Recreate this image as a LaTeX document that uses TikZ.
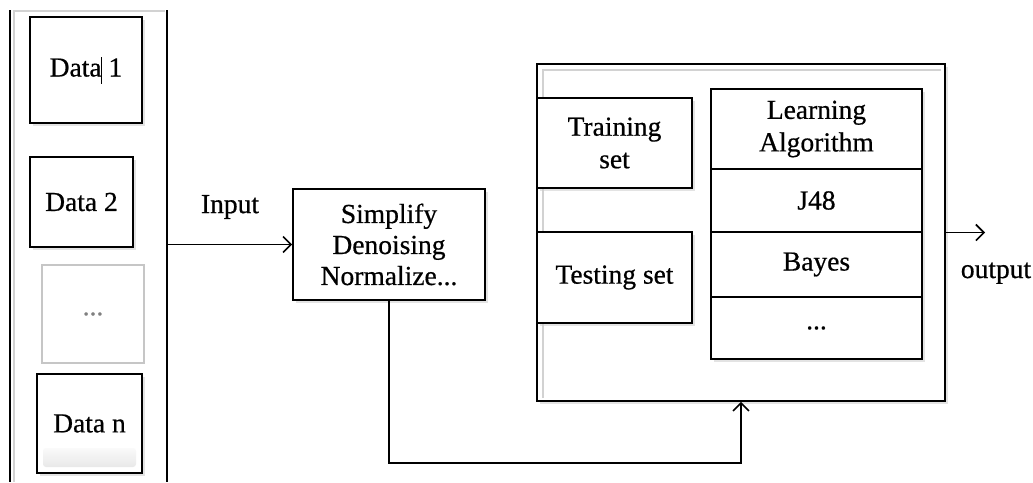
\documentclass[tikz,border=0pt]{standalone}
\usepackage{fontspec}
\setmainfont[FakeBold=0.6]{Liberation Serif}
\usetikzlibrary{arrows.meta,shadows}
\begin{document}
\begin{tikzpicture}[x=1pt,y=-1pt,
  txt/.style={font=\fontsize{27.5}{32.5}\selectfont, align=center, inner sep=0pt},
  box/.style={txt, draw=black, line width=1.6pt, fill=white, rectangle,
    drop shadow={shadow xshift=3pt, shadow yshift=-3pt, fill=gray!40, opacity=.55}},
  faint/.style={txt, draw=gray!45, line width=1.2pt, fill=white, rectangle, text=gray},
  wire/.style={line width=1.6pt, draw=black},
  arr/.style={wire, -{Straight Barb[length=8pt,width=16pt,line width=1.6pt]}},
  ghost/.style={draw=gray!35, line width=1.2pt}
]
\useasboundingbox (0,0) rectangle (1033,482);
\fill[white] (0,0) rectangle (1033,482);

% left panel
\draw[ghost] (14,482) -- (14,11) -- (165,11);
\draw[wire] (10,10) -- (10,482);
\draw[wire] (167,10) -- (167,482);
\coordinate (panelR) at (167,244.5);

\node[box, minimum width=112pt, minimum height=106pt] (d1) at (86,70)
  {Data\rlap{\kern-1pt\rule[-7pt]{1.3pt}{27pt}} 1};
\node[box, minimum width=103pt, minimum height=90pt] (d2) at (81.5,202) {Data 2};
\node[faint, minimum width=102pt, minimum height=98pt] (dd) at (93,314) {...};
\node[box, minimum width=105pt, minimum height=99pt] (dn) at (89.5,423.5) {};
\shade[top color=gray!4, bottom color=gray!18, rounded corners=3pt] (43,448) rectangle (136,467);
\node[txt] (dnt) at (dn.center) {Data n};

% preprocessing
\node[box, minimum width=192pt, minimum height=111pt] (simp) at (389,244.5)
  {Simplify\\[-1.5pt]Denoising\\[-1.5pt]Normalize...};
\node[txt] (inlab) at (230,207) {Input};

% outer model box
\node[box, minimum width=408pt, minimum height=337pt] (outer) at (741,232.5) {};
\draw[ghost] (543,398) -- (543,70) -- (941,70);

\node[box, minimum width=155pt, minimum height=90pt] (train) at (614.5,143) {Training\\set};
\node[box, minimum width=155pt, minimum height=91pt] (test) at (614.5,277.5) {Testing set};

\node[box, minimum width=211pt, minimum height=80pt] (la) at (816.5,129) {Learning\\Algorithm};
\node[box, minimum width=211pt, minimum height=63pt] (j48) at (816.5,200.5) {J48};
\node[box, minimum width=211pt, minimum height=65pt] (bayes) at (816.5,264.5) {Bayes};
\node[box, minimum width=211pt, minimum height=62pt] (more) at (816.5,328) {...};

% connectors
\draw[arr] (panelR) -- (simp.west);
\coordinate (low) at (0,463);
\draw[arr] (simp.south) -- (simp.south |- low) -| (outer.south);
\coordinate (outend) at (985,232.5);
\draw[arr] (outer.east) -- (outend);
\node[txt, anchor=base] (outlab) at (996,278) {output};
\end{tikzpicture}
\end{document}
